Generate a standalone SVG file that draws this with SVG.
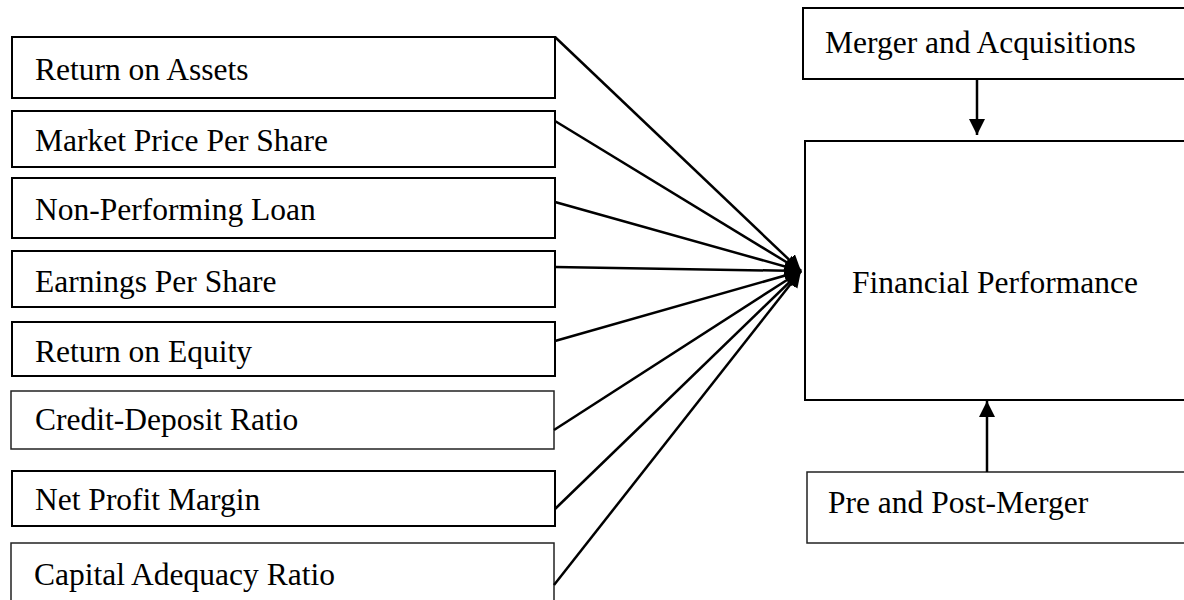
<svg xmlns="http://www.w3.org/2000/svg" width="1184" height="600" viewBox="0 0 1184 600">
<style>
.box{fill:#fff;stroke:#000;stroke-width:2}
.thin{stroke:#222;stroke-width:1.5}
.t{font-family:"Liberation Serif","Times New Roman",serif;font-size:31.5px;fill:#000}
.c{stroke:#000;stroke-width:2.5;fill:none}
</style>
<defs>
<marker id="ah" markerUnits="userSpaceOnUse" markerWidth="18" markerHeight="18" refX="16" refY="8" orient="auto">
<path d="M0,0 L16,8 L0,16 Z" fill="#000"/>
</marker>
</defs>
<rect width="1184" height="600" fill="#fff"/>
<g id="n1"><rect class="box" x="12" y="37" width="543" height="61"/><text class="t" x="35" y="80">Return on Assets</text></g>
<g id="n2"><rect class="box" x="12" y="111" width="543" height="56"/><text class="t" x="35" y="151">Market Price Per Share</text></g>
<g id="n3"><rect class="box" x="12" y="178" width="543" height="60"/><text class="t" x="35" y="220">Non-Performing Loan</text></g>
<g id="n4"><rect class="box" x="12" y="251" width="543" height="56"/><text class="t" x="35" y="292">Earnings Per Share</text></g>
<g id="n5"><rect class="box" x="12" y="322" width="543" height="54"/><text class="t" x="35" y="362">Return on Equity</text></g>
<g id="n6"><rect class="box thin" x="11" y="391" width="543" height="58"/><text class="t" x="35" y="430">Credit-Deposit Ratio</text></g>
<g id="n7"><rect class="box" x="12" y="471" width="543" height="55"/><text class="t" x="35" y="510">Net Profit Margin</text></g>
<g id="n8"><rect class="box thin" x="11" y="543" width="543" height="70"/><text class="t" x="34" y="585">Capital Adequacy Ratio</text></g>
<g id="n9"><rect class="box" x="803" y="8" width="400" height="71"/><text class="t" x="825" y="53">Merger and Acquisitions</text></g>
<g id="n10"><rect class="box" x="805" y="141" width="400" height="259"/><text class="t" x="852" y="293">Financial Performance</text></g>
<g id="n11"><rect class="box thin" x="807" y="472" width="400" height="71"/><text class="t" x="828" y="513">Pre and Post-Merger</text></g>
<g id="connectors">
<line class="c" x1="555" y1="37" x2="801" y2="271" marker-end="url(#ah)"/>
<line class="c" x1="555" y1="121" x2="801" y2="271" marker-end="url(#ah)"/>
<line class="c" x1="555" y1="202" x2="801" y2="271" marker-end="url(#ah)"/>
<line class="c" x1="555" y1="267" x2="801" y2="271" marker-end="url(#ah)"/>
<line class="c" x1="555" y1="341" x2="801" y2="271" marker-end="url(#ah)"/>
<line class="c" x1="554" y1="430" x2="801" y2="271" marker-end="url(#ah)"/>
<line class="c" x1="555" y1="509" x2="801" y2="271" marker-end="url(#ah)"/>
<line class="c" x1="554" y1="585" x2="801" y2="271" marker-end="url(#ah)"/>
<line class="c" x1="977" y1="79" x2="977" y2="135" marker-end="url(#ah)"/>
<line class="c" x1="987" y1="472" x2="987" y2="401" marker-end="url(#ah)"/>
</g>
</svg>
